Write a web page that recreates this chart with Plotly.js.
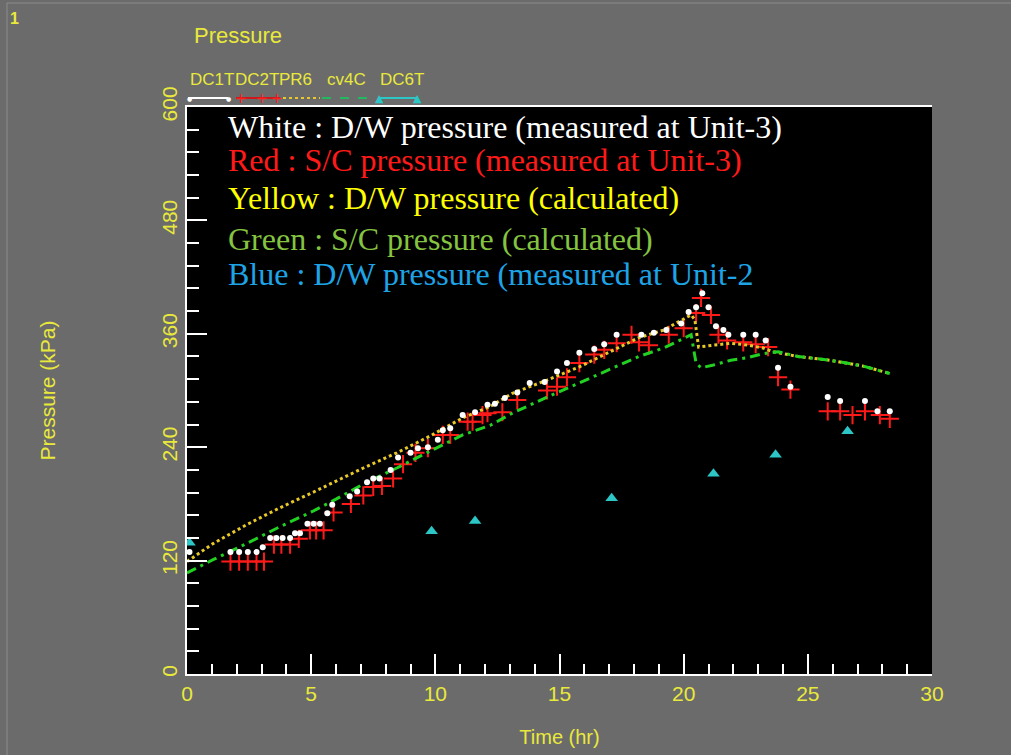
<!DOCTYPE html>
<html>
<head>
<meta charset="utf-8">
<script src="https://cdn.plot.ly/plotly-3.0.1.min.js"></script>
<style>
html,body{margin:0;padding:0;background:#6b6b6b;}
#chart{width:1011px;height:755px;}
</style>
</head>
<body>
<div id="chart"></div>
<script>
// ---- Data ----
// DC1T : D/W pressure measured at Unit-3 (white dots)
const dc1tTime = [0.1, 1.75, 2.1, 2.45, 2.8, 3.05, 3.35, 3.6, 3.85, 4.15, 4.35, 4.55, 4.85, 5.1, 5.35, 5.65, 5.85, 6.55, 6.85, 7.25, 7.5, 7.75, 8.2, 8.5, 9.0, 9.3, 9.7, 10.1, 10.3, 10.6, 11.1, 11.6, 12.1, 12.4, 12.8, 13.3, 13.8, 14.4, 14.9, 15.3, 15.8, 16.4, 16.8, 17.3, 18.3, 18.8, 19.3, 19.9, 20.2, 20.5, 20.75, 21.0, 21.3, 21.6, 21.8, 22.4, 22.9, 23.3, 23.8, 24.3, 25.8, 26.3, 27.3, 27.8, 28.3];
const dc1tPressure = [129, 129, 129, 129, 129, 134, 144, 144, 144, 144, 149, 149, 159, 159, 159, 170, 179, 188, 193, 203, 207, 207, 216, 229, 234, 239, 240, 248, 258, 260, 274, 277, 285, 286, 292, 298, 308, 309, 320, 329, 340, 344, 349, 359, 359, 361, 364, 371, 383, 388, 403, 388, 368, 364, 359, 359, 359, 353, 324, 304, 293, 289, 289, 278, 278];

// DC2T : S/C pressure measured at Unit-3 (red crosses)
const dc2tTime = [1.75, 2.1, 2.45, 2.8, 3.1, 3.5, 3.8, 4.15, 4.5, 4.95, 5.2, 5.5, 5.9, 6.6, 7.1, 7.5, 7.85, 8.3, 8.7, 9.2, 9.7, 10.3, 10.6, 11.3, 11.5, 11.9, 12.1, 12.7, 13.3, 14.5, 14.9, 15.3, 15.8, 16.4, 16.8, 17.3, 17.9, 18.2, 18.6, 19.4, 20.0, 20.5, 20.7, 21.1, 21.4, 21.75, 22.4, 22.9, 23.4, 23.8, 24.3, 25.8, 26.3, 26.8, 27.3, 27.9, 28.3];
const dc2tPressure = [119, 119, 119, 119, 119, 137, 137, 137, 143, 152, 152, 152, 171, 180, 189, 198, 199, 207, 222, 234, 239, 253, 253, 267, 267, 274, 276, 277, 290, 300, 304, 314, 329, 338, 343, 350, 359, 351, 348, 359, 366, 382, 398, 380, 359, 353, 351, 349, 346, 314, 301, 278, 278, 274, 278, 274, 270];

// PR6 : D/W pressure calculated (yellow dotted)
const pr6Time = [0, 1.05, 2.4, 3.75, 5.05, 6.0, 7.1, 8.45, 9.8, 11.1, 12.2, 13.1, 14.5, 15.8, 17.2, 18.2, 19.2, 20.3, 20.45, 20.6, 21.2, 21.9, 22.6, 23.2, 23.6, 24.6, 25.9, 27.2, 28.3];
const pr6Pressure = [119, 138, 158, 176, 192, 204, 218, 234, 252, 271, 283, 297, 311, 325, 343, 356, 364, 380, 375, 346, 348, 350, 348, 345, 341, 336, 332, 326, 318];

// cv4C : S/C pressure calculated (green dash-dot)
const cv4cTime = [0, 1.05, 2.4, 3.75, 5.05, 6.0, 7.1, 8.45, 9.8, 11.1, 12.2, 13.1, 14.5, 15.8, 17.2, 18.2, 19.2, 20.3, 20.5, 20.7, 21.2, 21.9, 22.6, 23.2, 23.8, 24.6, 25.9, 27.2, 28.3];
const cv4cPressure = [107, 121, 138, 156, 172, 185, 201, 218, 236, 253, 263, 276, 293, 308, 324, 336, 345, 359, 329, 324, 327, 332, 335, 339, 341, 336, 332, 326, 318];

// DC6T : D/W pressure measured at Unit-2 (cyan triangles)
const dc6tTime = [0.1, 9.85, 11.6, 17.1, 21.2, 23.7, 26.6];
const dc6tPressure = [139, 151, 162, 186, 212, 232, 257];

// Axis / legend texts
const yTickVals = [0, 120, 240, 360, 480, 600];
const xTickVals = [0, 5, 10, 15, 20, 25, 30];
const legendNames = ["DC1T", "DC2T", "PR6", "cv4C", "DC6T"];
const noteLines = [
  "White : D/W pressure (measured at Unit-3)",
  "Red : S/C pressure (measured at Unit-3)",
  "Yellow : D/W pressure (calculated)",
  "Green : S/C pressure (calculated)",
  "Blue : D/W pressure (measured at Unit-2"
];

// ---- Styling ----
const YEL = '#e9e93c';
const GRAY = '#6b6b6b';
const noteColors = ['#ffffff', '#ff1a1a', '#ffff00', '#84c440', '#1ea4e6'];

// Plot area in pixels
const L = 187, R = 932, T = 107, B = 674;
const W = 1011, H = 755;
const pxX = p => (p - L) / (R - L);
const pxY = p => (B - p) / (B - T);

const traces = [
  {x: dc2tTime, y: dc2tPressure, mode: 'markers', type: 'scatter', name: 'DC2T',
   marker: {symbol: 'cross-thin', size: 13, color: '#ff1a1a', line: {color: '#ff1a1a', width: 2}}},
  {x: pr6Time, y: pr6Pressure, mode: 'lines', type: 'scatter', name: 'PR6',
   line: {color: '#e8c828', width: 3, dash: 'dot'}},
  {x: cv4cTime, y: cv4cPressure, mode: 'lines', type: 'scatter', name: 'cv4C',
   line: {color: '#22d022', width: 3, dash: '10px,5px,3px,5px'}},
  {x: dc1tTime, y: dc1tPressure, mode: 'markers', type: 'scatter', name: 'DC1T',
   marker: {symbol: 'circle', size: 6, color: '#ffffff'}},
  {x: dc6tTime, y: dc6tPressure, mode: 'markers', type: 'scatter', name: 'DC6T',
   marker: {symbol: 'triangle-up', size: 11, color: '#2cc6c6'}}
];

const annotations = [];
const shapes = [];

// in-plot notes
const noteY = [127, 160, 198, 239, 274];
noteLines.forEach((t, i) => {
  annotations.push({xref: 'paper', yref: 'paper', x: pxX(226), y: pxY(noteY[i]),
    xanchor: 'left', yanchor: 'middle', showarrow: false, text: t,
    font: {family: 'Liberation Serif, Times New Roman, serif', size: 32, color: noteColors[i]}});
});

// chart title & frame number
annotations.push({xref: 'paper', yref: 'paper', x: pxX(192), y: pxY(35), xanchor: 'left', yanchor: 'middle',
  showarrow: false, text: 'Pressure', font: {family: 'Liberation Sans, Arial, sans-serif', size: 22, color: YEL}});
annotations.push({xref: 'paper', yref: 'paper', x: pxX(8), y: pxY(18), xanchor: 'left', yanchor: 'middle',
  showarrow: false, text: '<b>1</b>', font: {family: 'Liberation Sans, Arial, sans-serif', size: 16, color: YEL}});

// legend header text
const legX = [188, 233, 277, 325, 378];
legendNames.forEach((n, i) => {
  annotations.push({xref: 'paper', yref: 'paper', x: pxX(legX[i]), y: pxY(80), xanchor: 'left', yanchor: 'middle',
    showarrow: false, text: n, font: {family: 'Liberation Sans, Arial, sans-serif', size: 17, color: YEL}});
});

// legend sample lines
const legY = pxY(98);
const seg = (x0, x1, color, dash) => shapes.push({type: 'line', xref: 'paper', yref: 'paper',
  x0: pxX(x0), x1: pxX(x1), y0: legY, y1: legY, line: {color: color, width: 2, dash: dash || 'solid'}});
seg(188, 228, '#ffffff');
seg(236, 280, '#d01818');
seg(283, 320, '#e8c828', 'dot');
seg(322, 367, '#22b860', 'dash');
seg(379, 417, '#2cc6c6');
const mk = (x, txt, color, size) => annotations.push({xref: 'paper', yref: 'paper', x: pxX(x), y: legY,
  xanchor: 'center', yanchor: 'middle', showarrow: false, text: txt, font: {size: size, color: color, family: 'DejaVu Sans'}});
mk(189, '●', '#ffffff', 6); mk(228, '●', '#ffffff', 6);
mk(241, '+', '#ff2020', 14); mk(262, '+', '#ff2020', 14); mk(277, '+', '#ff2020', 14);
mk(379, '▲', '#2cc6c6', 11); mk(417, '▲', '#2cc6c6', 11);

// outer frame lines (left & top)
shapes.push({type: 'line', xref: 'paper', yref: 'paper', x0: pxX(7), x1: pxX(7), y0: pxY(3), y1: pxY(755),
  line: {color: '#8c8c8c', width: 1}});
shapes.push({type: 'line', xref: 'paper', yref: 'paper', x0: pxX(7), x1: pxX(1011), y0: pxY(3), y1: pxY(3),
  line: {color: '#8c8c8c', width: 1}});

const layout = {
  width: W, height: H,
  paper_bgcolor: GRAY, plot_bgcolor: '#000000',
  margin: {l: L, r: W - R, t: T, b: H - B, pad: 0},
  showlegend: false,
  font: {family: 'Liberation Sans, Arial, sans-serif', color: YEL},
  xaxis: {
    range: [0, 30], tickvals: xTickVals, ticktext: xTickVals.map(String),
    ticks: 'inside', ticklen: 20, tickwidth: 2, tickcolor: '#ffffff',
    minor: {dtick: 1, tick0: 0, ticks: 'inside', ticklen: 10, tickwidth: 2, tickcolor: '#ffffff'},
    showline: true, linecolor: '#ffffff', linewidth: 2, mirror: true,
    showgrid: false, zeroline: false,
    tickfont: {family: 'Liberation Sans Narrow, Liberation Sans, Arial, sans-serif', size: 21, color: YEL},
    title: {text: 'Time (hr)', standoff: 26, font: {family: 'Liberation Sans, Arial, sans-serif', size: 20, color: YEL}}
  },
  yaxis: {
    range: [0, 600], tickvals: yTickVals, ticktext: yTickVals.map(String),
    ticks: 'inside', ticklen: 20, tickwidth: 2, tickcolor: '#ffffff', tickangle: -90,
    minor: {dtick: 24, tick0: 0, ticks: 'inside', ticklen: 12, tickwidth: 2, tickcolor: '#ffffff'},
    showline: true, linecolor: '#ffffff', linewidth: 2, mirror: false,
    showgrid: false, zeroline: false,
    tickfont: {family: 'Liberation Sans Narrow, Liberation Sans, Arial, sans-serif', size: 21, color: YEL},
    title: {text: 'Pressure (kPa)', standoff: 96, font: {family: 'Liberation Sans, Arial, sans-serif', size: 21, color: YEL}}
  },
  annotations: annotations,
  shapes: shapes
};

Plotly.newPlot('chart', traces, layout, {staticPlot: true, displayModeBar: false});
</script>
</body>
</html>
